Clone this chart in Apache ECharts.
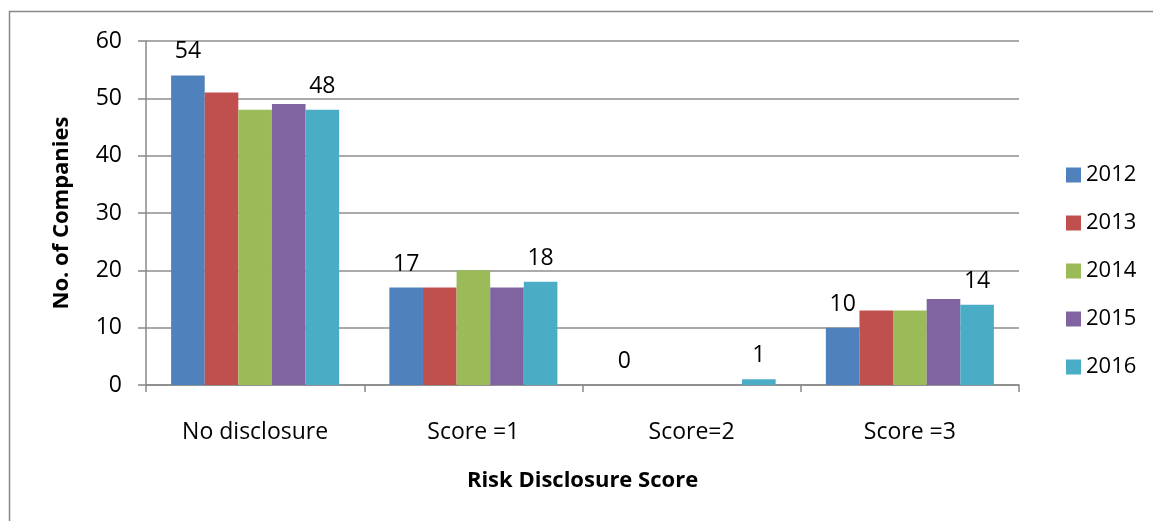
<!DOCTYPE html>
<html lang="en">
<head>
  <meta charset="UTF-8">
  <title>Risk Disclosure Score</title>
  <script src="https://cdn.jsdelivr.net/npm/echarts@6.0.0/dist/echarts.min.js"></script>
  <style>
    body { margin: 0; background: #fff; }
  </style>
</head>
<body>
  <div id="main" style="width: 1153px; height: 521px;"></div>

  <script>
    // data
    const categories = ['No disclosure', 'Score =1', 'Score=2', 'Score =3'];
    const years = ['2012', '2013', '2014', '2015', '2016'];
    const v2012 = [54, 17, 0, 10];
    const v2013 = [51, 17, 0, 13];
    const v2014 = [48, 20, 0, 13];
    const v2015 = [49, 17, 0, 15];
    const v2016 = [48, 18, 1, 14];
    const colors = ['#4F81BD', '#C0504D', '#9BBB59', '#8064A2', '#4BACC6'];

    const font = 'Open Sans';
    const allValues = [v2012, v2013, v2014, v2015, v2016];
    // only first and last year carry value labels
    const labelled = [true, false, false, false, true];

    const myChart = echarts.init(document.getElementById('main'));

    const options = {
      animation: false,
      color: colors,
      textStyle: { fontFamily: font, color: '#000' },
      graphic: [{
        type: 'rect',
        shape: { x: 9.5, y: 11.5, width: 1300, height: 700 },
        style: { fill: 'none', stroke: '#888', lineWidth: 1.5 },
        silent: true
      }],
      grid: { left: 146, right: 134, top: 41, bottom: 136 },
      legend: {
        orient: 'vertical',
        left: 1061,
        top: 159,
        itemWidth: 15,
        itemHeight: 15,
        itemGap: 26,
        icon: 'rect',
        textStyle: { fontSize: 22, fontFamily: font, color: '#000' },
        data: years
      },
      xAxis: {
        type: 'category',
        data: categories,
        name: 'Risk Disclosure Score',
        nameLocation: 'middle',
        nameGap: 85,
        nameTextStyle: { fontSize: 22, fontWeight: 'bold', fontFamily: font, color: '#000' },
        axisLine: { lineStyle: { color: '#888', width: 1.5 } },
        axisTick: { show: true, length: 7, alignWithLabel: false, lineStyle: { color: '#888', width: 1.5 } },
        axisLabel: { fontSize: 23, margin: 36, color: '#000' }
      },
      yAxis: {
        type: 'value',
        min: 0,
        max: 60,
        interval: 10,
        name: 'No. of Companies',
        nameLocation: 'middle',
        nameGap: 73,
        nameRotate: 90,
        nameTextStyle: { fontSize: 22, fontWeight: 'bold', fontFamily: font, color: '#000' },
        axisLine: { show: true, lineStyle: { color: '#888', width: 1.5 } },
        axisTick: { show: true, length: 8, lineStyle: { color: '#888', width: 1.5 } },
        axisLabel: { fontSize: 23, margin: 24, color: '#000' },
        splitLine: { lineStyle: { color: '#8e8e8e', width: 1.5 } }
      },
      series: years.map((y, i) => ({
        name: y,
        type: 'bar',
        data: allValues[i],
        barGap: '0%',
        barCategoryGap: '23%',
        label: {
          show: labelled[i],
          position: 'top',
          distance: 12,
          fontSize: 23,
          fontFamily: font,
          color: '#000'
        }
      }))
    };

    myChart.setOption(options);
  </script>
</body>
</html>
